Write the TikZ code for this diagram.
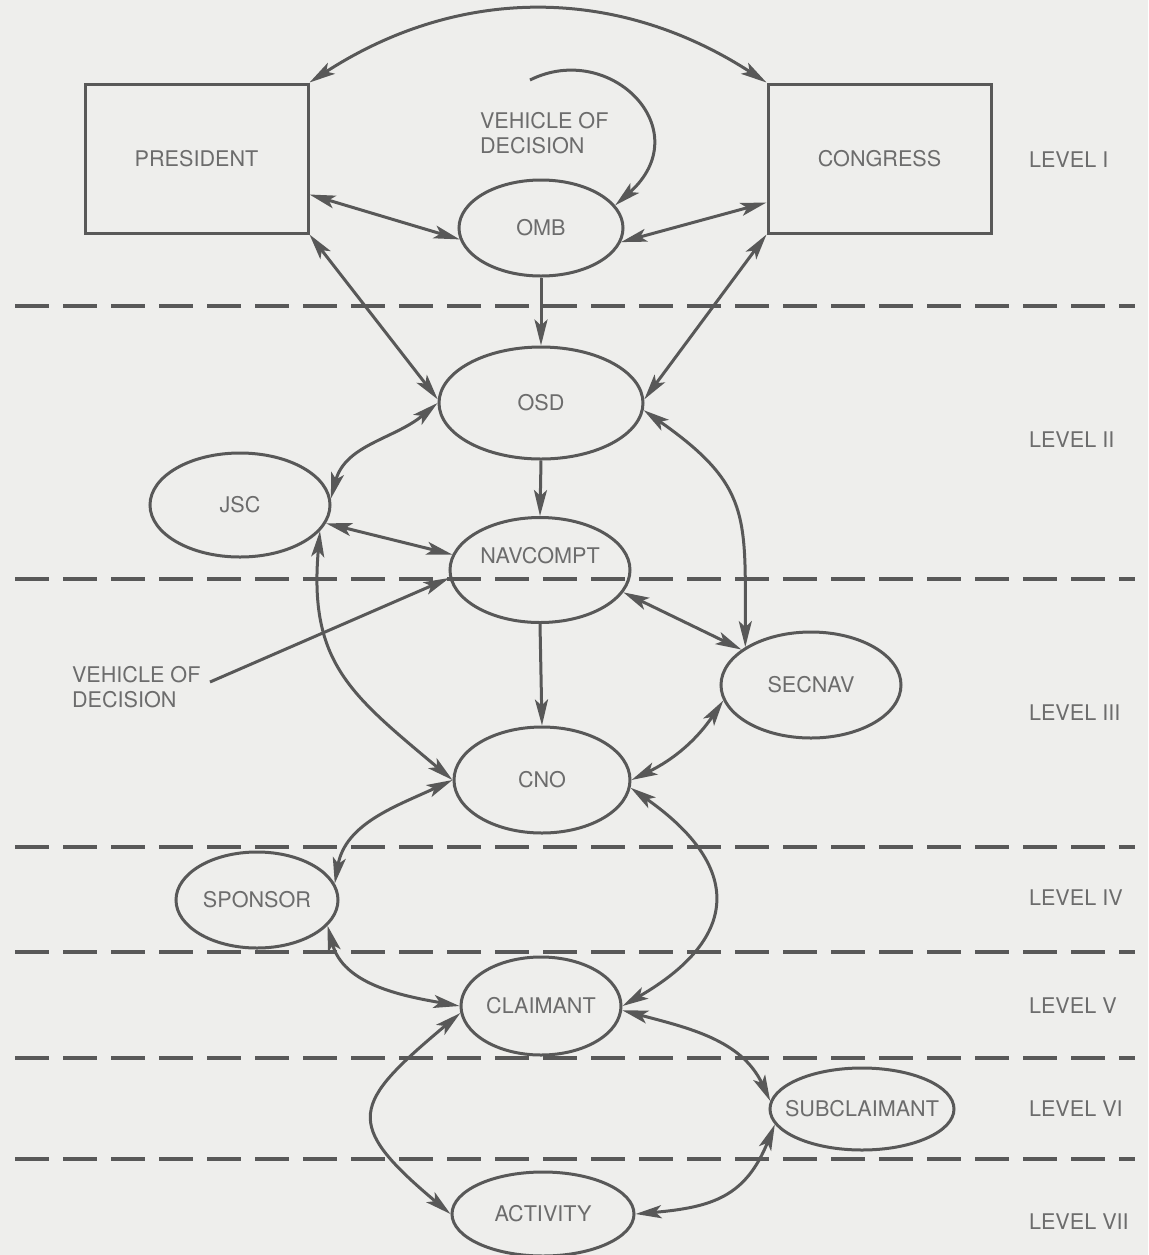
\documentclass[tikz,border=0pt]{standalone}
\usepackage{fontspec}
\setmainfont{TeX Gyre Heros}
\usetikzlibrary{arrows.meta,shapes.geometric}
\definecolor{ink}{RGB}{88,88,88}
\definecolor{paper}{RGB}{238,238,236}
\definecolor{lettering}{RGB}{108,108,108}
\begin{document}
\begin{tikzpicture}[x=0.5pt,y=-0.5pt,
        every node/.style={font=\fontsize{10.8}{12.5}\selectfont,text=lettering},
        box/.style={draw=ink,line width=1.5pt,minimum width=111.5pt,minimum height=74.5pt},
        unit/.style={draw=ink,line width=1.5pt,ellipse,inner sep=0pt},
        link/.style={draw=ink,line width=1.5pt,{Stealth[length=13pt,width=6.5pt,inset=3pt]}-{Stealth[length=13pt,width=6.5pt,inset=3pt]}},
        feed/.style={draw=ink,line width=1.5pt,-{Stealth[length=13pt,width=6.5pt,inset=3pt]}},
        sep/.style={draw=ink,line width=2pt,dash pattern=on 17pt off 7pt},
        lvl/.style={anchor=west}]
        \useasboundingbox (0,0) rectangle (1148,1255);
        \fill[paper] (0,0) rectangle (1148,1255);

        \foreach \y in {306,579,847,952,1058,1159} {
            \draw[sep] (15,\y) -- (1135,\y);
        }
        \foreach \y/\t in {160/I,440/II,713/III,898/IV,1006/V,1109/VI,1222/VII} {
            \node[lvl] (lvl\t) at (1022,\y) {LEVEL \t};
        }

        \node[box] (pres) at (196.5,158.5) {PRESIDENT};
        \node[box] (cong) at (879.5,158.5) {CONGRESS};
        \node[unit,minimum width=82pt,minimum height=48pt] (omb) at (541,228) {OMB};
        \node[unit,minimum width=102pt,minimum height=56pt] (osd) at (541,403) {OSD};
        \node[unit,minimum width=90pt,minimum height=52pt] (jsc) at (240,505) {JSC};
        \node[unit,minimum width=90pt,minimum height=52.5pt,label={[yshift=7pt]center:NAVCOMPT}] (navcompt) at (540,570) {};
        \node[unit,minimum width=90pt,minimum height=53pt] (secnav) at (811,685) {SECNAV};
        \node[unit,minimum width=88pt,minimum height=53pt] (cno) at (542,780) {CNO};
        \node[unit,minimum width=81pt,minimum height=48pt] (sponsor) at (257,900) {SPONSOR};
        \node[unit,minimum width=80pt,minimum height=49pt] (claimant) at (541,1006) {CLAIMANT};
        \node[unit,minimum width=92pt,minimum height=41pt,label={center:SUBCLAIMANT}] (subclaimant) at (862,1109) {};
        \node[unit,minimum width=91pt,minimum height=42pt] (activity) at (543,1214) {ACTIVITY};

        \node[anchor=west,align=left] (vodtop) at (473,133) {VEHICLE OF\\DECISION};
        \node[anchor=west,align=left] (vodlow) at (65,687) {VEHICLE OF\\DECISION};
        \coordinate (loopstart) at (530,80);
        \coordinate (vodtail) at (210,682);

        \draw[link] (pres.north east) to[bend left=33] (cong.north west);
        \draw[feed] (loopstart) .. controls (610,40) and (700,130) .. (omb.17);
        \draw[link] ([yshift=-18pt]pres.east) -- (omb.188);
        \draw[link] ([yshift=-22pt]cong.west) -- (omb.-10);
        \draw[feed] (omb.south) -- (osd.north);
        \draw[link] (pres.south east) -- (osd.178);
        \draw[link] (cong.south west) -- (osd.2);
        \draw[feed] (osd.south) -- (navcompt.north);
        \draw[link] (osd.west) to[out=-140,in=75] (jsc.4);
        \draw[link] (jsc.-12) -- (navcompt.170);
        \draw[link] (jsc.-18) to[out=-95,in=140,looseness=1.2] (cno.west);
        \draw[feed] (vodtail) -- (navcompt.185);
        \draw[link] (navcompt.-15) -- (secnav.153);
        \draw[link] (osd.-4) to[out=-35,in=90,looseness=1.3] (secnav.150);
        \draw[feed] (navcompt.south) -- (cno.north);
        \draw[link] (secnav.190) to[bend left=15] (cno.east);
        \draw[link] (cno.west) to[out=-155,in=80] (sponsor.12);
        \draw[link] (cno.-5) to[out=-35,in=30,looseness=1.6] (claimant.east);
        \draw[link] (sponsor.-20) to[out=-75,in=170] (claimant.west);
        \draw[link] (claimant.185) to[out=-140,in=140,looseness=1.8] (activity.west);
        \draw[link] (claimant.-3) to[out=-15,in=115] (subclaimant.175);
        \draw[link] (subclaimant.190) to[out=-112,in=5,looseness=1.2] (activity.east);

    \end{tikzpicture}
\end{document}
